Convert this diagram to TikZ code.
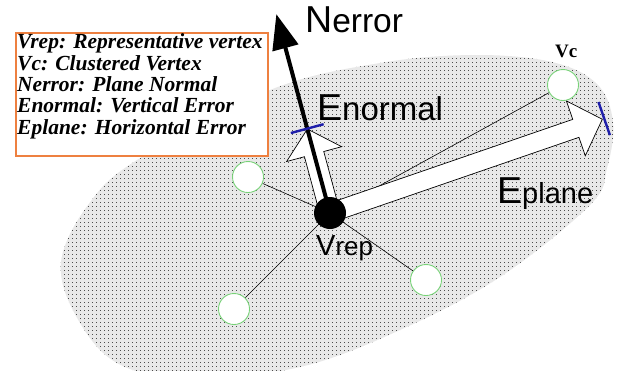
\documentclass[tikz,border=0pt]{standalone}
\usepackage{fontspec}
\setmainfont{Liberation Serif}
\setsansfont{Liberation Sans}
\usetikzlibrary{arrows.meta,patterns}

% drawing layers: shaded plane, thin links, hollow block arrows, everything else
\pgfdeclarelayer{back}
\pgfdeclarelayer{links}
\pgfdeclarelayer{blocks}
\pgfsetlayers{back,links,blocks,main}

% square grid of small dots for the plane
\pgfdeclarepatternformonly{griddots}{\pgfpointorigin}{\pgfpoint{4bp}{4bp}}{\pgfpoint{4bp}{4bp}}{%
  \pgfpathrectangle{\pgfpointorigin}{\pgfpoint{1.1bp}{1.1bp}}\pgfusepath{fill}}

\definecolor{legendorange}{RGB}{238,128,64}
\definecolor{vgreen}{RGB}{120,210,120}
\definecolor{tickblue}{RGB}{30,30,170}

\begin{document}
\begin{tikzpicture}[x=1bp,y=-1bp,
  vertex/.style={circle, draw=vgreen, line width=0.9bp, fill=white, minimum size=31bp, inner sep=0},
  repvertex/.style={circle, fill=black, minimum size=32bp, inner sep=0},
  link/.style={line width=0.6bp},
  block/.style={draw=black, line width=0.7bp, fill=white, line join=miter},
  normalarrow/.style={line width=4bp, -{Triangle[length=35bp,width=26bp]}},
  tickmark/.style={draw=tickblue, line width=2.4bp},
  legendtext/.style={anchor=base west, inner sep=0, font=\fontsize{21.5bp}{21.5bp}\selectfont\bfseries\itshape},
  biglabel/.style={anchor=base west, inner sep=0, font=\sffamily},
  planeoutline/.style={smooth cycle, tension=0.6}
]
\useasboundingbox (0,0) rectangle (620,370);

% the tilted plane, outlined by a closed smooth curve
\begin{pgfonlayer}{back}
  \fill[white] (0,0) rectangle (620,370);
  \def\planepath{plot[planeoutline] coordinates {
      (475,55) (552,62) (597,84) (613,122) (607,168) (590,205) (500,277) (400,330)
      (300,367) (190,379) (117,363) (76,316) (61,262) (88,205) (137,160) (270,90) (380,63)}}
  \fill[black!9] \planepath;
  \fill[pattern=griddots, pattern color=black!70] \planepath;
\end{pgfonlayer}

% legend
\node (legend) [draw=legendorange, line width=2bp, fill=white, anchor=north west,
  minimum width=252bp, minimum height=123bp, inner sep=0] at (15,32) {};
\node[legendtext] (leg1) at (17,48.3)  {Vrep: Representative vertex};
\node[legendtext] (leg2) at (17,70.4)  {Vc: Clustered Vertex};
\node[legendtext] (leg3) at (17,91.8)  {Nerror: Plane Normal};
\node[legendtext] (leg4) at (17,112.9) {Enormal: Vertical Error};
\node[legendtext] (leg5) at (17,134.2) {Eplane: Horizontal Error};

% vertices
\node[vertex] (vc) at (563,85) {};
\node[vertex] (c1) at (248,177) {};
\node[vertex] (c2) at (234,309) {};
\node[vertex] (c3) at (426,280) {};

% links from the representative vertex to the clustered vertices
\begin{pgfonlayer}{links}
  \draw[link] (330,213) coordinate (vrepc) -- (vc);
  \draw[link] (vrepc) -- (c1);
  \draw[link] (vrepc) -- (c2);
  \draw[link] (vrepc) -- (c3);
\end{pgfonlayer}

% horizontal error: hollow block arrow along the plane
\begin{scope}[shift={(vrepc)}, rotate=19]
  \begin{pgfonlayer}{blocks}
    \filldraw[block] (0,-9.5) -- (260,-9.5) -- (260,-29) -- (288,0) -- (260,29) -- (260,9.5) -- (0,9.5) -- cycle;
  \end{pgfonlayer}
  \coordinate (pt1) at (290,-17.5);
  \coordinate (pt2) at (290,17.5);
\end{scope}

% vertical error and plane normal
\begin{scope}[shift={(vrepc)}, rotate=105.1]
  \begin{pgfonlayer}{blocks}
    \filldraw[block] (0,-10) -- (61,-10) -- (61,-28.5) -- (87,0) -- (61,28.5) -- (61,10) -- (0,10) -- cycle;
  \end{pgfonlayer}
  \coordinate (ntip) at (206,0);
  \coordinate (nt1) at (87.4,-17);
  \coordinate (nt2) at (87.4,17);
\end{scope}

\node[repvertex] (vrep) at (vrepc) {};
\draw[normalarrow] (vrep.center) -- (ntip);

% end marks of the error vectors
\draw[tickmark] (nt1) -- (nt2);
\draw[tickmark] (pt1) -- (pt2);

% labels
\node[biglabel] (nlabel) at (305,32)
  {{\fontsize{37.5bp}{37.5bp}\selectfont N}{\fontsize{33.5bp}{33.5bp}\selectfont error}};
\node[biglabel] (enlabel) at (317,120)
  {{\fontsize{37.5bp}{37.5bp}\selectfont E}{\fontsize{33bp}{33bp}\selectfont normal}};
\node[biglabel] (eplabel) at (497,203)
  {{\fontsize{37.5bp}{37.5bp}\selectfont E}{\fontsize{29bp}{29bp}\selectfont plane}};
\node[biglabel] (vreplabel) at (316,255)
  {{\fontsize{29bp}{29bp}\selectfont V}{\fontsize{26bp}{26bp}\selectfont rep}};
\node (vclabel) [anchor=base west, inner sep=0, font=\fontsize{19bp}{19bp}\selectfont\bfseries] at (555,57) {Vc};
\end{tikzpicture}
\end{document}
